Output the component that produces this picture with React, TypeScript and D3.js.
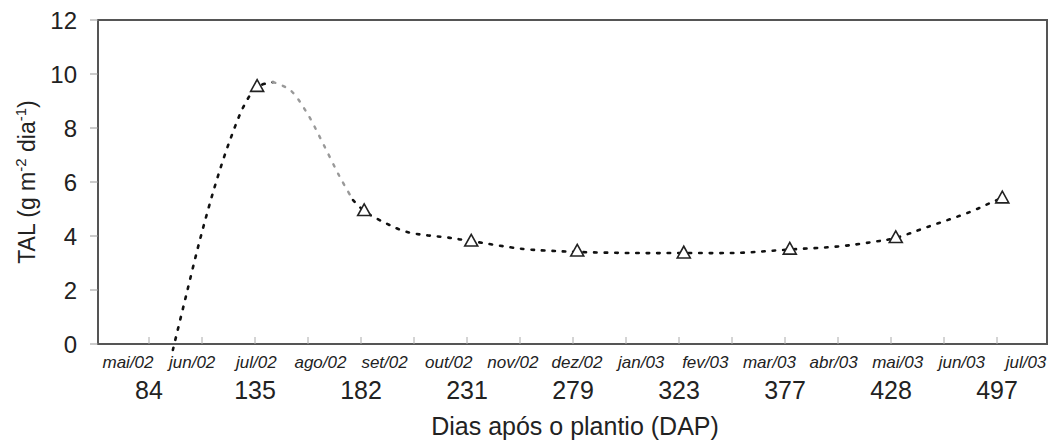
import { useMemo } from "react";
import { scaleLinear, scalePoint, line, curveCatmullRom, range } from "d3";

const WIDTH = 1056;
const HEIGHT = 442;

// x positions are in "tick units": one unit per half-period, DAP labels sit on odd ticks
const dapLabels = ["84", "135", "182", "231", "279", "323", "377", "428", "497"];
const dapTicks = [1, 3, 5, 7, 9, 11, 13, 15, 17];
const months = [
  "mai/02", "jun/02", "jul/02", "ago/02", "set/02", "out/02", "nov/02", "dez/02",
  "jan/03", "fev/03", "mar/03", "abr/03", "mai/03", "jun/03", "jul/03",
];
const yTicks = [0, 2, 4, 6, 8, 10, 12];

// observed TAL values (triangles)
const obsPos = [3.04, 5.06, 7.08, 9.08, 11.09, 13.09, 15.09, 17.1];
const obsTal = [9.55, 4.95, 3.82, 3.45, 3.38, 3.52, 3.95, 5.42];

// fitted curve
const curvePos = [1.45, 1.68, 1.96, 2.25, 2.53, 2.81, 3.04, 3.34, 3.66, 3.98, 4.28, 4.6, 4.85, 5.06, 5.42, 5.87, 6.68, 7.08, 8.06, 8.7, 9.08, 10.08, 11.09, 12.15, 13.09, 14.04, 14.66, 15.09, 15.68, 16.49, 16.87, 17.11];
const curveTal = [-0.22, 1.63, 3.85, 5.89, 7.56, 8.89, 9.52, 9.7, 9.41, 8.56, 7.44, 6.19, 5.33, 4.93, 4.52, 4.15, 3.93, 3.81, 3.52, 3.44, 3.41, 3.37, 3.37, 3.38, 3.5, 3.62, 3.78, 3.93, 4.33, 4.89, 5.22, 5.42];

const FONT = "'Liberation Sans', Arial, sans-serif";
const AXIS = "#555";

export default function App() {
  const frame = { left: 98, right: 1047, top: 20, bottom: 344 };
  const x = useMemo(() => scaleLinear().domain([0, 18]).range([96, 1050]), []);
  const y = useMemo(() => scaleLinear().domain([0, 12]).range([frame.bottom, frame.top]), []);
  const monthX = useMemo(() => scalePoint<string>().domain(months).range([128, 1026]), []);

  const pts = curvePos.map((p, i) => [p, curveTal[i]] as [number, number]);
  const gen = line<[number, number]>().x((d) => x(d[0])).y((d) => y(d[1])).curve(curveCatmullRom);
  const rise = gen(pts.slice(0, 8));
  const fall = gen(pts.slice(7, 13));
  const tail = gen(pts.slice(12));

  const tri = (cx: number, cy: number) => {
    const s = 6.5;
    return `M${cx},${cy - s}L${cx + s},${cy + s * 0.8}L${cx - s},${cy + s * 0.8}Z`;
  };

  return (
    <svg width={WIDTH} height={HEIGHT} style={{ position: "absolute", left: 0, top: 0, background: "#fff" }} fontFamily={FONT}>
      {/* frame */}
      <rect x={frame.left} y={frame.top} width={frame.right - frame.left} height={frame.bottom - frame.top} fill="none" stroke={AXIS} strokeWidth={2} />

      {/* y axis ticks + labels */}
      {yTicks.map((t) => (
        <g key={t}>
          <line x1={frame.left - 8} x2={frame.left} y1={y(t)} y2={y(t)} stroke="#999" strokeWidth={1} />
          <text x={77} y={y(t)} dy="0.36em" textAnchor="end" fontSize={24} fill="#222">{t}</text>
        </g>
      ))}
      <text transform={`translate(35,${(frame.top + frame.bottom) / 2}) rotate(-90)`} textAnchor="middle" fontSize={23} fill="#222">
        TAL (g m<tspan dy={-9} fontSize={15}>-2</tspan><tspan dy={9}> dia</tspan><tspan dy={-9} fontSize={15}>-1</tspan><tspan dy={9}>)</tspan>
      </text>

      {/* x axis ticks */}
      {range(1, 18).map((t) => (
        <line key={t} x1={x(t)} x2={x(t)} y1={frame.bottom - 7} y2={frame.bottom} stroke="#aaa" strokeWidth={1} />
      ))}
      {months.map((m) => (
        <text key={m} x={monthX(m)} y={368} textAnchor="middle" fontSize={17} fontStyle="italic" fill="#222">{m}</text>
      ))}
      {dapLabels.map((d, i) => (
        <text key={d} x={x(dapTicks[i])} y={399} textAnchor="middle" fontSize={25} fill="#222">{d}</text>
      ))}
      <text x={575} y={435} textAnchor="middle" fontSize={25} fill="#222">Dias após o plantio (DAP)</text>

      {/* fitted curve */}
      <path d={rise ?? ""} fill="none" stroke="#111" strokeWidth={2.6} strokeDasharray="2.5 8" strokeLinecap="round" />
      <path d={fall ?? ""} fill="none" stroke="#999" strokeWidth={2.4} strokeDasharray="2.5 8" strokeLinecap="round" />
      <path d={tail ?? ""} fill="none" stroke="#111" strokeWidth={2.6} strokeDasharray="2.5 8" strokeLinecap="round" />

      {/* observed values */}
      {obsPos.map((p, i) => (
        <path key={i} d={tri(x(p), y(obsTal[i]))} fill="#fff" stroke="#222" strokeWidth={1.6} />
      ))}
    </svg>
  );
}
